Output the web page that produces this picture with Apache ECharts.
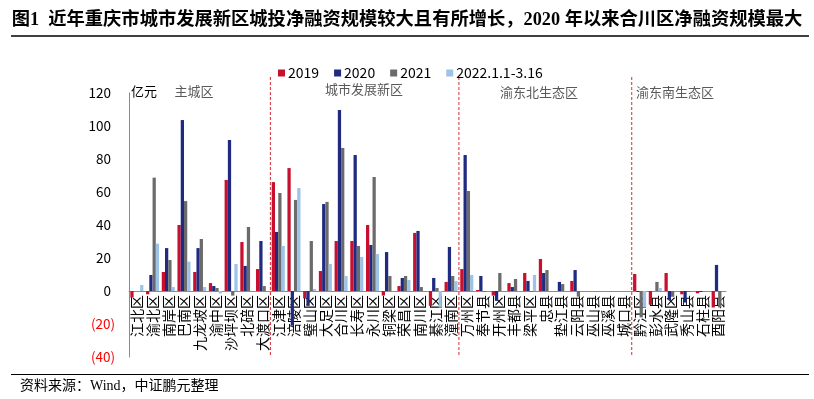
<!DOCTYPE html>
<html><head><meta charset="utf-8">
<script src="https://cdn.jsdelivr.net/npm/echarts@6/dist/echarts.min.js"></script>
<style>html,body{margin:0;padding:0;background:#fff}#c{width:814px;height:399px}</style>
</head><body><div id="c"></div>
<script>
const categories = ['江北区','渝北区','南岸区','巴南区','九龙坡区','渝中区','沙坪坝区','北碚区','大渡口区',
  '江津区','涪陵区','璧山区','大足区','合川区','长寿区','永川区','铜梁区','荣昌区','南川区','綦江区','潼南区',
  '万州区','奉节县','开州区','丰都县','梁平区','忠县','垫江县','云阳县','巫山县','巫溪县','城口县',
  '黔江区','彭水县','武隆区','秀山县','石柱县','酉阳县'];
const seriesNames = ['2019','2020','2021','2022.1.1-3.16'];
const s2019 = [-4, -2, 11.5, 40, 11.5, 4.8, 67.3, 29.7, 13.3,
  66, 74.5, -4.5, 12.1, 30.3, 30.3, 40, -2.8, 3, 35.2, -9, 5.5,
  13.3, 0.6, -2.8, 4.8, 10.9, 19.4, 0, 6.1, 0, 0, 0,
  10.3, -8.3, 10.9, -2, -1.4, -10];
const s2020 = [0, 9.7, 26, 103.6, 26, 3, 91.5, 15.2, 30.3,
  35.8, -21, -9, 52.7, 109.7, 82.4, 27.9, 23.6, 7.9, 36.4, 7.9, 26.7,
  82.4, 9.1, -6, 2.4, 6.1, 10.9, 5.5, 12.7, 0, 0, 0,
  -0.6, 0, -5.5, -7, -0.6, 15.8];
const s2021 = [0, 68.7, 18.8, 54.5, 31.5, 1.8, -2.8, 38.8, 3,
  59.4, 55.2, 30.3, 54, 86.7, 27.3, 69.1, 9.1, 9.1, 2.4, 1.8, 9.1,
  60.6, -0.6, 10.9, 7.3, -0.6, 12.7, 4.2, -3.4, 0, 0, 0,
  -16, 5.5, -3.5, -0.6, 0, -10];
const s2022 = [3.6, 28.7, 2.4, 17.8, 2.4, -1.5, 16.4, 0, 0,
  27.3, 62.4, 1.2, 16.4, 9.1, 20.6, 22.4, 0, 6.7, 0, -10, 6,
  9.7, 0, 0, 0, 9.7, 0, 0, 0, 0, 0, 0,
  -10, 1.8, 0, 0, 0, 0];
const groupNames = ['主城区','城市发展新区','渝东北生态区','渝东南生态区'];
const groupBoundaries = [9, 21, 32]; // first category index of groups 2..4
const yMin = -40, yMax = 120, yStep = 20;
const titleText = '图1  近年重庆市城市发展新区城投净融资规模较大且有所增长，2020 年以来合川区净融资规模最大';
const sourceText = '资料来源：Wind，中证鹏元整理';
const unitText = '亿元';

const colors = ['#C8102E', '#1F2A80', '#6B6B6B', '#9DC3E6'];
const cjk = "'Noto Sans CJK SC', sans-serif";

const chart = echarts.init(document.getElementById('c'), null, {renderer: 'canvas'});
const dataArr = [s2019, s2020, s2021, s2022];
const option = {
  animation: false,
  color: colors,
  title: {
    text: titleText, left: 'center', top: 6,
    textStyle: {fontSize: 18.3, fontWeight: 'bold', color: '#000', fontFamily: "'Liberation Serif', 'Noto Sans CJK SC', serif"}
  },
  legend: {
    data: seriesNames, left: 273, top: 61, icon: 'rect', itemWidth: 7, itemHeight: 7, itemGap: 15,
    textStyle: {fontSize: 14, color: '#000', fontFamily: cjk, padding: [0,0,0,-2]}
  },
  grid: {left: 129, right: 88, top: 93, bottom: 42, containLabel: false, outerBoundsMode: 'none'},
  xAxis: {
    type: 'category', data: categories,
    axisLine: {onZero: false, lineStyle: {color: '#8C8C8C', width: 1}},
    axisTick: {show: false},
    axisLabel: {interval: 0, rotate: 90, fontSize: 14, color: '#000', margin: 4, fontFamily: cjk}
  },
  yAxis: {
    type: 'value', min: yMin, max: yMax, interval: yStep,
    axisLine: {show: true, lineStyle: {color: '#8C8C8C'}},
    axisTick: {show: false}, splitLine: {show: false},
    axisLabel: {
      margin: 18, fontSize: 13.5, color: '#000', fontFamily: cjk,
      formatter: v => v < 0 ? '{neg|(' + (-v) + ')}' : String(v),
      rich: {neg: {color: '#FF0000', fontSize: 13.5, fontFamily: cjk, padding: [0,-4,0,0]}}
    }
  },
  series: seriesNames.map((n, i) => ({
    name: n, type: 'bar', data: dataArr[i], barGap: '0%', barCategoryGap: '17%'
  }))
};
chart.setOption(option);

function drawExtras() {
  const g = [];
  const yTop = 77;
  const yBot = chart.convertToPixel({yAxisIndex: 0}, yMin);
  const yZero = chart.convertToPixel({yAxisIndex: 0}, 0);
  groupBoundaries.forEach(b => {
    const x = (chart.convertToPixel({xAxisIndex: 0}, b - 1) + chart.convertToPixel({xAxisIndex: 0}, b)) / 2;
    g.push({type: 'line', shape: {x1: x, y1: yTop, x2: x, y2: yBot},
      style: {stroke: '#D92B35', lineWidth: 1, lineDash: [3, 2]}, z: 1});
  });
  const gx = [194, 364, 539, 675];
  const gy = [91, 89, 92, 92];
  groupNames.forEach((t, i) => {
    g.push({type: 'text', x: gx[i], y: gy[i], style: {text: t, fill: '#595959', font: "13px 'Noto Sans CJK SC'", textAlign: 'center', textVerticalAlign: 'middle'}, z: 10});
  });
  g.push({type: 'text', x: 131, y: 91, style: {text: unitText, fill: '#000', font: "13px 'Noto Sans CJK SC'", textAlign: 'left', textVerticalAlign: 'middle'}, z: 10});
  g.push({type: 'line', shape: {x1: 11, y1: 36, x2: 809, y2: 36}, style: {stroke: '#000', lineWidth: 1.5}});
  g.push({type: 'line', shape: {x1: 11, y1: 374.5, x2: 809, y2: 374.5}, style: {stroke: '#000', lineWidth: 1}});
  g.push({type: 'text', x: 20, y: 386, style: {text: sourceText, fill: '#000', font: "14px 'Liberation Serif', 'Noto Sans CJK SC'", textAlign: 'left', textVerticalAlign: 'middle'}});
  chart.setOption({graphic: g, xAxis: {offset: -(yBot - yZero)}});
}
drawExtras();
</script></body></html>
